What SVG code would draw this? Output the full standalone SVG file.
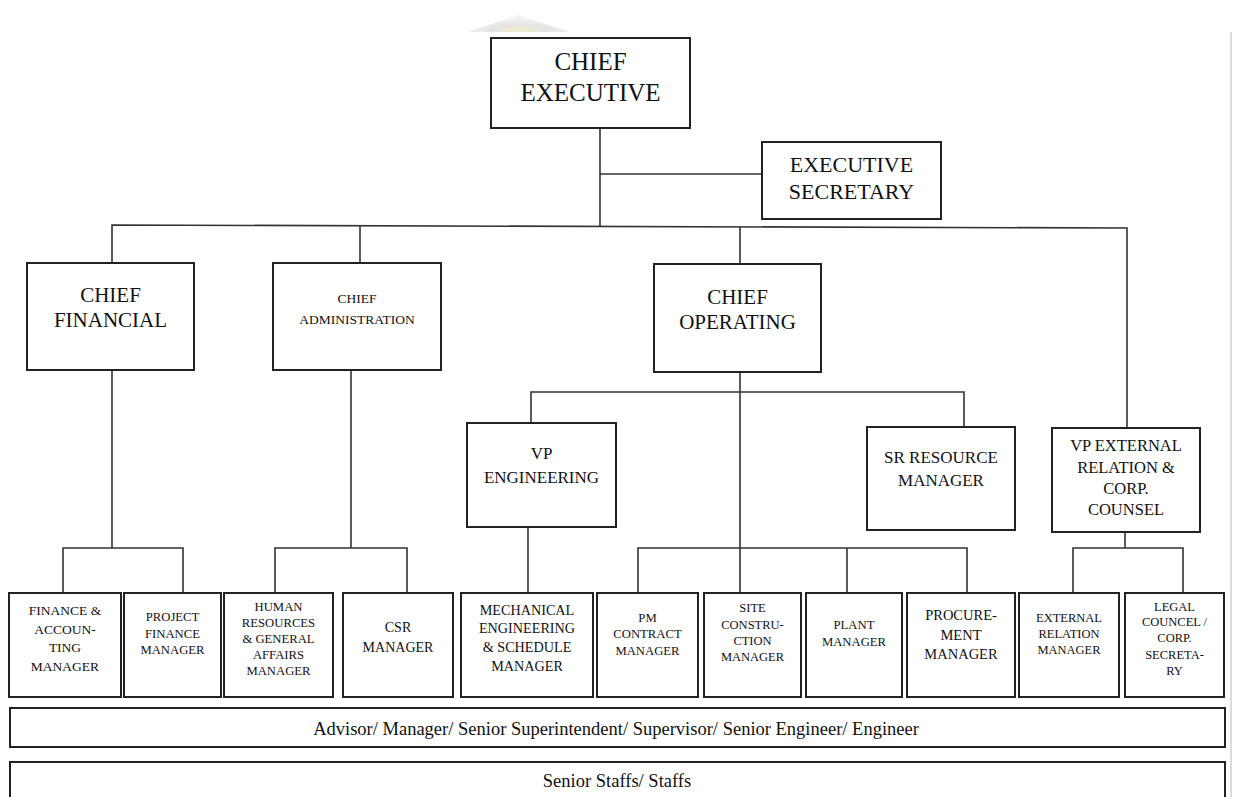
<svg xmlns="http://www.w3.org/2000/svg" width="1235" height="797" viewBox="0 0 1235 797" font-family="'Liberation Serif', 'DejaVu Serif', serif">
<style>
.box{fill:#fff;stroke:#222;stroke-width:2}
.ln{fill:none;stroke:#333;stroke-width:1.6}
text{font-family:'Liberation Serif','DejaVu Serif',serif;fill:#111;text-anchor:middle}
</style>
<defs>
<radialGradient id="wm" cx="0.5" cy="0.85" r="0.6">
<stop offset="0" stop-color="#f3efc0"/>
<stop offset="0.4" stop-color="#e4e4e4"/>
<stop offset="1" stop-color="#f2f2f2"/>
</radialGradient>
</defs>
<rect width="1235" height="797" fill="#fff"/>
<polygon points="468,32 518,15 570,32" fill="url(#wm)"/>
<line x1="1231" y1="32" x2="1231" y2="797" stroke="#cfcfcf" stroke-width="1.5"/>

<g id="connectors" class="ln">
<path d="M600,128 V226"/>
<path d="M600,174 H762"/>
<path d="M112,263 V225 L1127,228 V428"/>
<path d="M360,225.7 V263"/>
<path d="M740,227 V264"/>
<path d="M112,370 V548"/>
<path d="M63,593 V548 H183 V593"/>
<path d="M351,370 V548"/>
<path d="M275,593 V548 H407 V593"/>
<path d="M740,372 V593"/>
<path d="M531,423 V392 H964 V427"/>
<path d="M528,527 V593"/>
<path d="M638,593 V548 H967 V593"/>
<path d="M847,548 V593"/>
<path d="M1125,532 V548"/>
<path d="M1073,593 V548 H1183 V593"/>
</g>

<g id="chief-executive"><rect class="box" x="491" y="38" width="199" height="90"/>
<text font-size="25"><tspan x="590.5" y="70">CHIEF</tspan><tspan x="590.5" y="101">EXECUTIVE</tspan></text></g>

<g id="executive-secretary"><rect class="box" x="762" y="142" width="179" height="77"/>
<text font-size="22"><tspan x="851.5" y="172">EXECUTIVE</tspan><tspan x="851.5" y="199">SECRETARY</tspan></text></g>

<g id="chief-financial"><rect class="box" x="27" y="263" width="167" height="107"/>
<text font-size="21"><tspan x="110.5" y="302">CHIEF</tspan><tspan x="110.5" y="327">FINANCIAL</tspan></text></g>

<g id="chief-administration"><rect class="box" x="273" y="263" width="168" height="107"/>
<text font-size="13.5"><tspan x="357" y="302.5">CHIEF</tspan><tspan x="357" y="323.5">ADMINISTRATION</tspan></text></g>

<g id="chief-operating"><rect class="box" x="654" y="264" width="167" height="108"/>
<text font-size="21"><tspan x="737.5" y="304">CHIEF</tspan><tspan x="737.5" y="329">OPERATING</tspan></text></g>

<g id="vp-engineering"><rect class="box" x="467" y="423" width="149" height="104"/>
<text font-size="17"><tspan x="541.5" y="458.5">VP</tspan><tspan x="541.5" y="482.5">ENGINEERING</tspan></text></g>

<g id="sr-resource-manager"><rect class="box" x="867" y="427" width="148" height="103"/>
<text font-size="17"><tspan x="941" y="462.5">SR RESOURCE</tspan><tspan x="941" y="485.5">MANAGER</tspan></text></g>

<g id="vp-external"><rect class="box" x="1052" y="428" width="148" height="104"/>
<text font-size="16.5"><tspan x="1126" y="450.5">VP EXTERNAL</tspan><tspan x="1126" y="472.5">RELATION &amp;</tspan><tspan x="1126" y="493.5">CORP.</tspan><tspan x="1126" y="514.5">COUNSEL</tspan></text></g>

<g id="finance-accounting"><rect class="box" x="9" y="593" width="112" height="104"/>
<text font-size="13.5"><tspan x="65" y="615">FINANCE &amp;</tspan><tspan x="65" y="633.5">ACCOUN-</tspan><tspan x="65" y="652">TING</tspan><tspan x="65" y="670.5">MANAGER</tspan></text></g>

<g id="project-finance"><rect class="box" x="124" y="593" width="97" height="104"/>
<text font-size="12.7"><tspan x="172.5" y="621">PROJECT</tspan><tspan x="172.5" y="637.5">FINANCE</tspan><tspan x="172.5" y="654">MANAGER</tspan></text></g>

<g id="hr-ga"><rect class="box" x="224" y="593" width="109" height="104"/>
<text font-size="12.7"><tspan x="278.5" y="611">HUMAN</tspan><tspan x="278.5" y="627">RESOURCES</tspan><tspan x="278.5" y="643">&amp; GENERAL</tspan><tspan x="278.5" y="659">AFFAIRS</tspan><tspan x="278.5" y="675">MANAGER</tspan></text></g>

<g id="csr"><rect class="box" x="343" y="593" width="110" height="104"/>
<text font-size="14"><tspan x="398" y="632">CSR</tspan><tspan x="398" y="652">MANAGER</tspan></text></g>

<g id="mechanical"><rect class="box" x="461" y="593" width="132" height="104"/>
<text font-size="14.2"><tspan x="527" y="615">MECHANICAL</tspan><tspan x="527" y="633">ENGINEERING</tspan><tspan x="527" y="652">&amp; SCHEDULE</tspan><tspan x="527" y="671">MANAGER</tspan></text></g>

<g id="pm-contract"><rect class="box" x="597" y="593" width="101" height="104"/>
<text font-size="12.7"><tspan x="647.5" y="621.5">PM</tspan><tspan x="647.5" y="637.5">CONTRACT</tspan><tspan x="647.5" y="654.5">MANAGER</tspan></text></g>

<g id="site-construction"><rect class="box" x="704" y="593" width="97" height="104"/>
<text font-size="12.5"><tspan x="752.5" y="612">SITE</tspan><tspan x="752.5" y="629">CONSTRU-</tspan><tspan x="752.5" y="645">CTION</tspan><tspan x="752.5" y="661">MANAGER</tspan></text></g>

<g id="plant"><rect class="box" x="806" y="593" width="96" height="104"/>
<text font-size="12.7"><tspan x="854" y="629">PLANT</tspan><tspan x="854" y="645.5">MANAGER</tspan></text></g>

<g id="procurement"><rect class="box" x="907" y="593" width="108" height="104"/>
<text font-size="14.5"><tspan x="961" y="620">PROCURE-</tspan><tspan x="961" y="639.5">MENT</tspan><tspan x="961" y="659">MANAGER</tspan></text></g>

<g id="external-relation"><rect class="box" x="1019" y="593" width="100" height="104"/>
<text font-size="12.5"><tspan x="1069" y="622">EXTERNAL</tspan><tspan x="1069" y="637.5">RELATION</tspan><tspan x="1069" y="654">MANAGER</tspan></text></g>

<g id="legal"><rect class="box" x="1125" y="593" width="99" height="104"/>
<text font-size="12.5"><tspan x="1174.5" y="611">LEGAL</tspan><tspan x="1174.5" y="626">COUNCEL /</tspan><tspan x="1174.5" y="642">CORP.</tspan><tspan x="1174.5" y="659">SECRETA-</tspan><tspan x="1174.5" y="675">RY</tspan></text></g>

<g id="tier-advisor"><rect class="box" x="10" y="708" width="1215" height="39"/>
<text font-size="18.5" x="616" y="735">Advisor/ Manager/ Senior Superintendent/ Supervisor/ Senior Engineer/ Engineer</text></g>

<g id="tier-staff"><rect class="box" x="10" y="762" width="1215" height="40"/>
<text font-size="18.5" x="617" y="787">Senior Staffs/ Staffs</text></g>
</svg>
